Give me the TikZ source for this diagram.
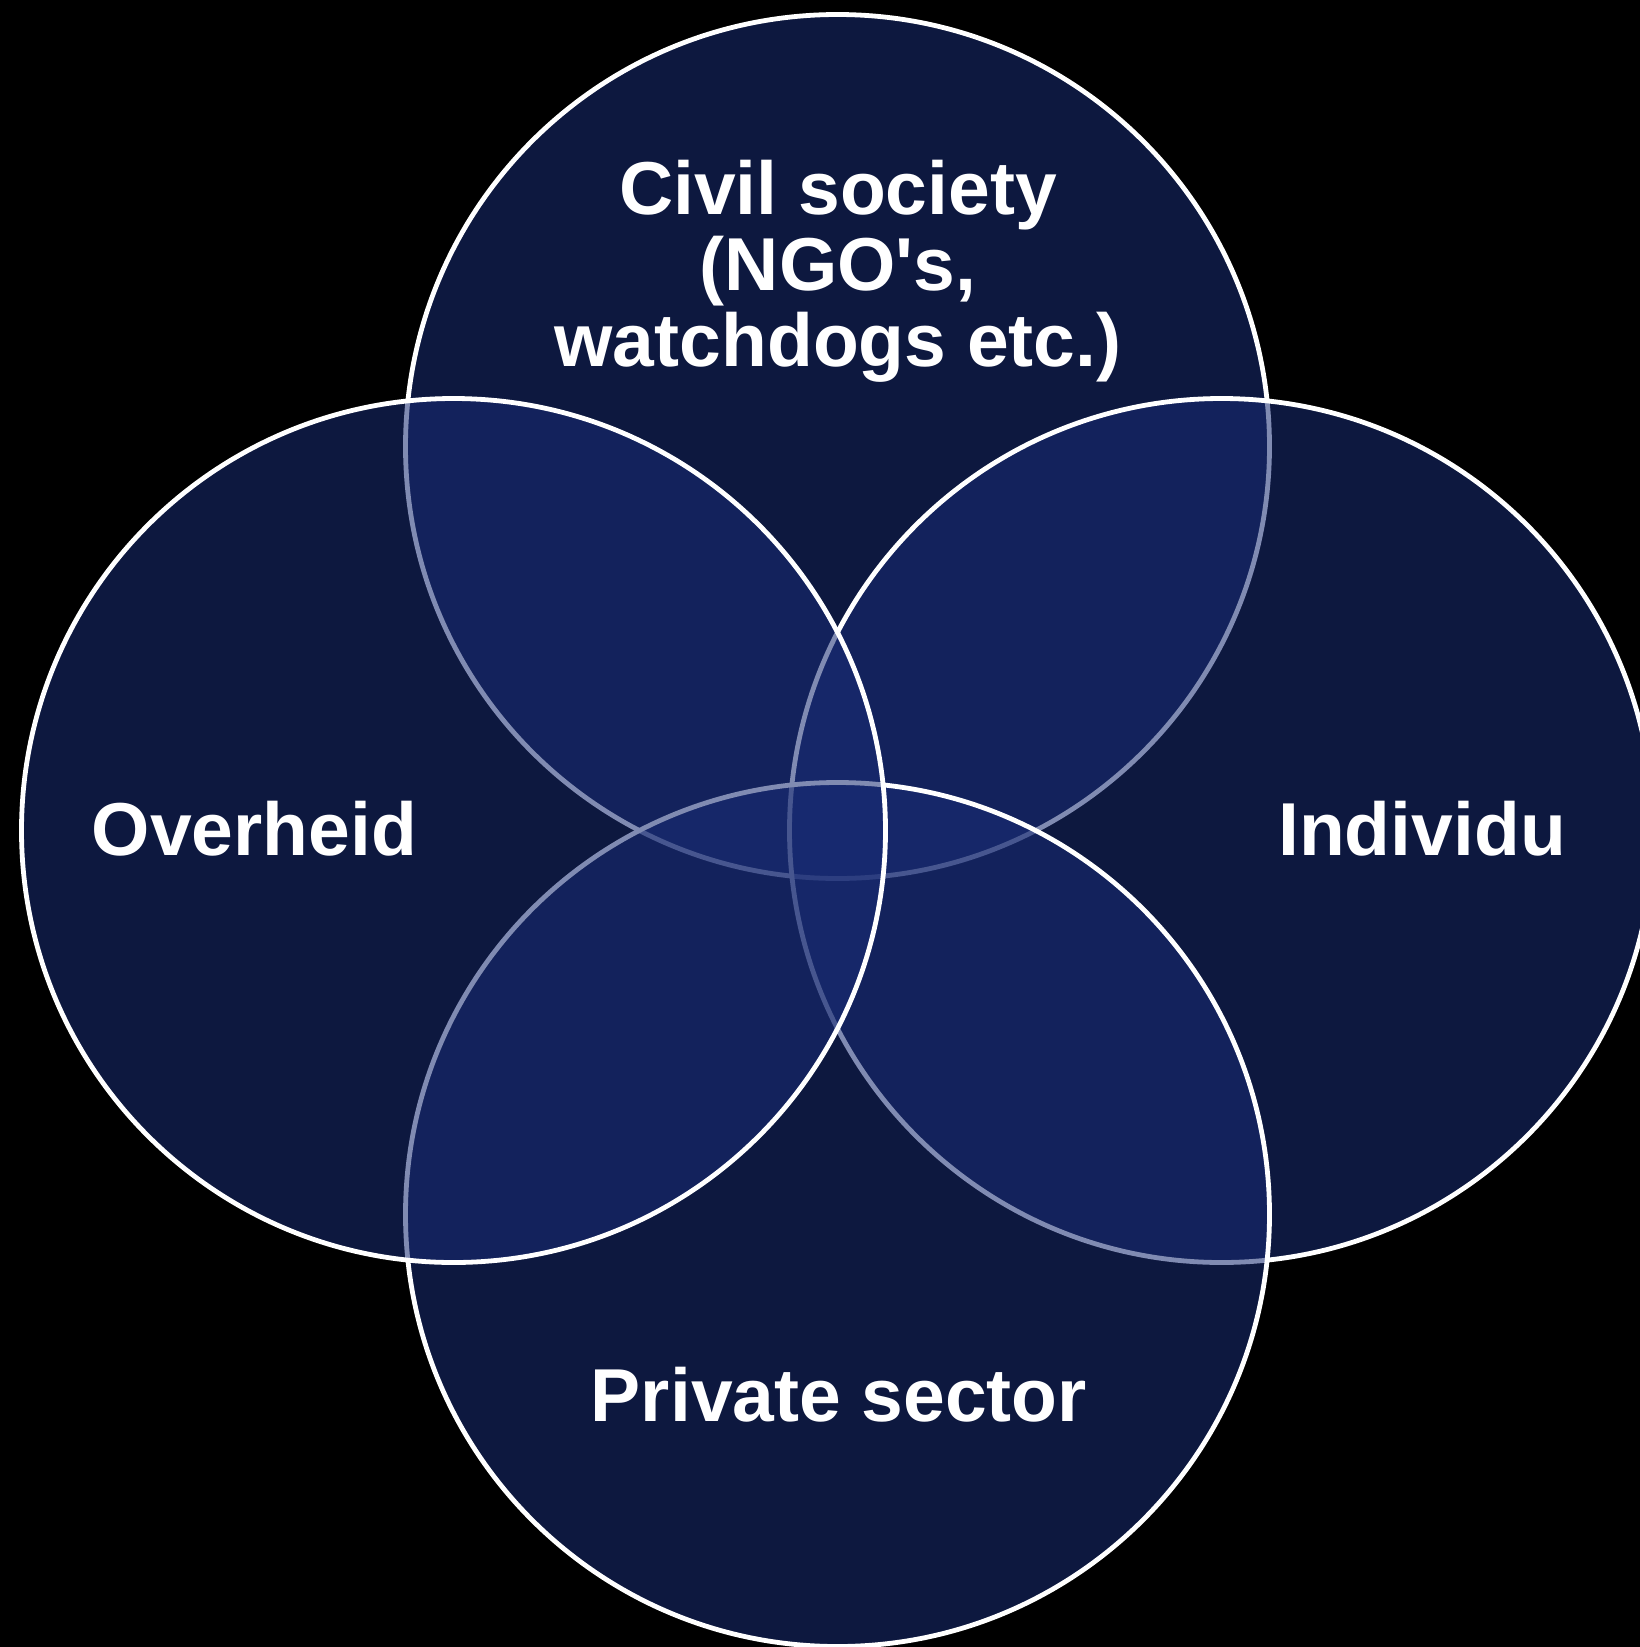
\documentclass[tikz,border=0pt]{standalone}
\usepackage{fontspec}
\setmainfont{Liberation Sans}[Ligatures=TeXOff]
\definecolor{vfill}{RGB}{25,44,116}
\tikzset{
  venn/.style={circle, minimum size=864pt, inner sep=0pt, outer sep=0pt,
    fill=vfill, fill opacity=0.55, draw=white, draw opacity=1, line width=4.8pt},
  lbl/.style={text=white, font=\bfseries\fontsize{75}{76}\selectfont, inner sep=0pt, align=center}
}
\begin{document}
\begin{tikzpicture}[x=1pt,y=-1pt]
\useasboundingbox (0,0) rectangle (1640,1647);
\fill[black] (0,0) rectangle (1640,1647);
\clip (0,0) rectangle (1640,1647);
% drawing order: top, right, bottom, left
\node[venn] (ctop) at (837.5,446.5) {};
\node[venn] (cright) at (1221.5,830.5) {};
\node[venn] (cbottom) at (837.5,1214.5) {};
\node[venn] (cleft) at (453.5,830.5) {};
% labels
\node[lbl] (tcivil) at (838,271) {Civil society\\(NGO's,\\watchdogs etc.)};
\node[lbl, anchor=base] (tover) at (254.5,855) {Overheid};
\node[lbl, anchor=base] (tind) at (1422,855) {Individu};
\node[lbl, anchor=base] (tpriv) at (839,1421) {Private sector};
\end{tikzpicture}
\end{document}
